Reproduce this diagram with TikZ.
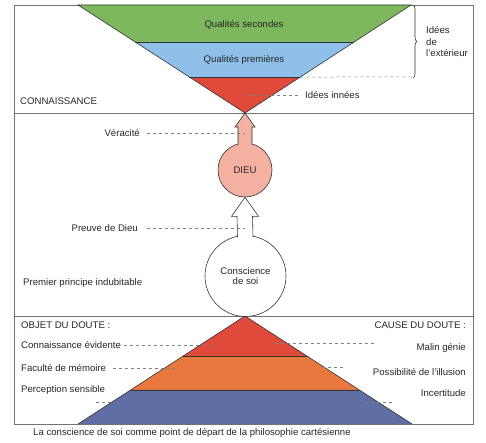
\documentclass[tikz,border=0pt]{standalone}
\usepackage{fontspec}
\setmainfont{Liberation Sans}
\usetikzlibrary{positioning, calc, decorations.pathreplacing}

\definecolor{secgreen}{HTML}{7DB85E}
\definecolor{premblue}{HTML}{8EC0E9}
\definecolor{innred}{HTML}{E04A3A}
\definecolor{dieupink}{HTML}{F4B0A0}
\definecolor{memorange}{HTML}{E9783E}
\definecolor{sensblue}{HTML}{5F6FA6}

\begin{document}
\begin{tikzpicture}[
  x=1pt, y=1pt,
  font=\fontsize{9.6}{10.5}\selectfont,
  outline/.style={draw=black!80, line width=0.6pt},
  framel/.style={draw=black!55, line width=0.6pt},
  guide/.style={draw=black!50, dash pattern=on 3pt off 3pt, line width=0.5pt},
  lbl/.style={inner sep=0pt, text=black!85},
  circ/.style={circle, draw=black!80, line width=0.6pt, inner sep=0pt, align=center, text=black!85},
  bigarrow/.style={draw=black!80, line width=0.6pt}
]
  \useasboundingbox (0,0) rectangle (486,442);

  %---------------- FRAME ----------------%
  \coordinate (fr-sw) at (14,18);
  \coordinate (fr-ne) at (473,437);
  \draw[framel] (fr-sw) rectangle (fr-ne);
  \draw[framel] (14,329) -- (473,329);
  \draw[framel] (14,126) -- (473,126);

  %---------------- TOP: CONNAISSANCE ----------------%
  \coordinate (top-l) at (78,437);
  \coordinate (top-r) at (411,437);
  \coordinate (top-apex) at (245,329);

  \fill[secgreen] (top-l) -- (top-r) -- ($(top-r)!0.3426!(top-apex)$) -- ($(top-l)!0.3426!(top-apex)$) -- cycle;
  \fill[premblue] ($(top-l)!0.3426!(top-apex)$) -- ($(top-r)!0.3426!(top-apex)$) -- ($(top-r)!0.6667!(top-apex)$) -- ($(top-l)!0.6667!(top-apex)$) -- cycle;
  \fill[innred] ($(top-l)!0.6667!(top-apex)$) -- ($(top-r)!0.6667!(top-apex)$) -- (top-apex) -- cycle;
  \draw[outline] (top-l) -- (top-r) -- (top-apex) -- cycle;
  \draw[outline] ($(top-l)!0.3426!(top-apex)$) -- ($(top-r)!0.3426!(top-apex)$);
  \draw[outline] ($(top-l)!0.6667!(top-apex)$) -- ($(top-r)!0.6667!(top-apex)$);

  \node[lbl] (qsec) at (244,417) {Qualités secondes};
  \node[lbl] (qprem) at (244,382) {Qualités premières};
  \node[lbl, anchor=west] (innees) at (305,347) {Idées innées};
  \draw[guide] (247,347) -- ($(innees.west)+(-4,0)$);
  \node[lbl, anchor=west] (connais) at (20,341) {CONNAISSANCE};

  \draw[black!80, line width=0.6pt, decorate, decoration={brace, amplitude=4pt}] (413,437) -- (413,364);
  \node[lbl, anchor=west, align=left, font=\fontsize{9.6}{11.5}\selectfont] (exter) at (426,400) {Idées\\de\\l'extérieur};
  \draw[guide] ($(top-r)!0.6667!(top-apex)$) -- (410,365);

  %---------------- MIDDLE: DIEU ----------------%
  \node[circ, fill=white, minimum size=81pt] (soi) at (245.5,166) {Conscience\\de soi};
  \node[circ, fill=dieupink, minimum size=54pt] (dieu) at (245,272) {DIEU};

  \filldraw[bigarrow, fill=dieupink] ($(dieu.north)+(-7,-2)$) -- ($(top-apex)+(-7,-14)$) -- ($(top-apex)+(-10,-14)$)
    -- (top-apex) -- ($(top-apex)+(10,-14)$) -- ($(top-apex)+(7,-14)$) -- ($(dieu.north)+(7,-2)$);
  \filldraw[bigarrow, fill=white] ($(soi.north)+(-8,-2)$) -- ($(dieu.south)+(-8,-19)$) -- ($(dieu.south)+(-13.5,-19)$)
    -- (dieu.south) -- ($(dieu.south)+(13.5,-19)$) -- ($(dieu.south)+(7.5,-19)$) -- ($(soi.north)+(7.5,-2)$);

  \node[lbl, anchor=east] (verac) at (140,309) {Véracité};
  \draw[guide] ($(verac.east)+(7,0)$) -- (245,309);
  \node[lbl, anchor=east] (preuve) at (138,214) {Preuve de Dieu};
  \draw[guide] ($(preuve.east)+(9,0)$) -- (245,214);
  \node[lbl, anchor=west] (premier) at (23,159) {Premier principe indubitable};

  %---------------- BOTTOM: DOUTE ----------------%
  \coordinate (bot-apex) at (245,126);
  \coordinate (bot-l) at (78,18);
  \coordinate (bot-r) at (412,18);

  \fill[innred] (bot-apex) -- ($(bot-apex)!0.370!(bot-r)$) -- ($(bot-apex)!0.370!(bot-l)$) -- cycle;
  \fill[memorange] ($(bot-apex)!0.370!(bot-l)$) -- ($(bot-apex)!0.370!(bot-r)$) -- ($(bot-apex)!0.685!(bot-r)$) -- ($(bot-apex)!0.685!(bot-l)$) -- cycle;
  \fill[sensblue] ($(bot-apex)!0.685!(bot-l)$) -- ($(bot-apex)!0.685!(bot-r)$) -- (bot-r) -- (bot-l) -- cycle;
  \draw[outline] (bot-l) -- (bot-apex) -- (bot-r);
  \draw[outline] ($(bot-apex)!0.370!(bot-l)$) -- ($(bot-apex)!0.370!(bot-r)$);
  \draw[outline] ($(bot-apex)!0.685!(bot-l)$) -- ($(bot-apex)!0.685!(bot-r)$);

  \node[lbl, anchor=west] (objet) at (21,117) {OBJET DU DOUTE :};
  \node[lbl, anchor=west] (evid) at (21,97) {Connaissance évidente};
  \draw[guide] ($(evid.east)+(3,0)$) -- (215,97);
  \node[lbl, anchor=west] (memo) at (21,74) {Faculté de mémoire};
  \draw[guide] (113,74) -- (175,74);
  \node[lbl, anchor=west] (percep) at (21,52) {Perception sensible};
  \draw[guide] (96,40) -- (117,40);

  \node[lbl, anchor=east] (cause) at (466,117) {CAUSE DU DOUTE :};
  \node[lbl, anchor=east] (malin) at (466,94) {Malin génie};
  \draw[guide] (275,99) -- (377,99);
  \node[lbl, anchor=east] (illus) at (466,70) {Possibilité de l'illusion};
  \draw[guide] (322,75) -- (343,75);
  \node[lbl, anchor=east] (incert) at (466,49) {Incertitude};
  \draw[guide] (365,40) -- (395,40);

  %---------------- CAPTION ----------------%
  \node[lbl, anchor=west] (caption) at (33,9) {La conscience de soi comme point de départ de la philosophie cartésienne};

\end{tikzpicture}
\end{document}
